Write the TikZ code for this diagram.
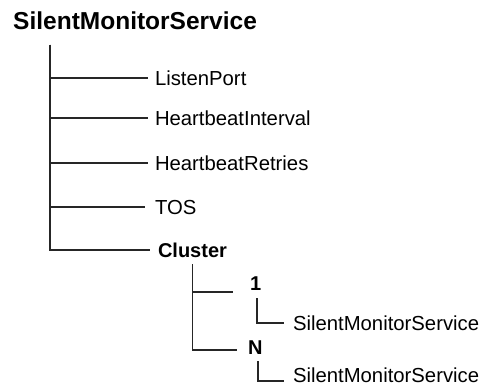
\documentclass[tikz,border=0pt]{standalone}
\usepackage{fontspec}
\setmainfont{Liberation Sans}
\usetikzlibrary{positioning}

\begin{document}
\begin{tikzpicture}[
  x=1pt,y=-1pt,
  item/.style={font=\fontsize{20.3}{22}\selectfont,anchor=west,inner sep=0pt,
               outer xsep=7pt,outer ysep=0pt,text height=14.5pt,text depth=0pt},
  bitem/.style={item,font=\fontsize{20}{22}\selectfont\bfseries},
  hd/.style={font=\fontsize{24.5}{26}\selectfont\bfseries,anchor=west,inner sep=0pt,
             text height=16.5pt,text depth=0pt},
  br/.style={line width=1.6pt,black!85},
]
\useasboundingbox (0,0) rectangle (484,387);

% root
\node[hd] (root) at (13,21) {SilentMonitorService};
\coordinate (trunk) at (50,45);

% first level
\node[item] (listen) at (148,78)  {ListenPort};
\node[item] (hbint)  at (148,118) {HeartbeatInterval};
\node[item] (hbret)  at (148,163) {HeartbeatRetries};
\node[item,outer xsep=10pt] (tos) at (145,207) {TOS};
\node[bitem,outer xsep=8pt] (cluster) at (150,250) {Cluster};

\foreach \n in {listen,hbint,hbret,tos,cluster}{\draw[br] (trunk) |- (\n.west);}

% cluster members
\node[bitem,outer xsep=17pt] (one) at (233,283) {1};
\node[bitem,outer xsep=11pt] (nn)  at (237,347) {N};
\node[item,outer xsep=9pt] (smsA) at (284,323) {SilentMonitorService};
\node[item,outer xsep=9pt] (smsN) at (284,375) {SilentMonitorService};

\draw[br] ([yshift=-7]cluster.south) |- ([yshift=-9]one.west);
\draw[br] ([yshift=-7]cluster.south) |- ([yshift=-3]nn.west);
\draw[br] ([xshift=1.5,yshift=-8]one.south) |- (smsA.west);
\draw[br] ([xshift=3,yshift=-7]nn.south) |- ([yshift=-6]smsN.west);
\end{tikzpicture}
\end{document}
